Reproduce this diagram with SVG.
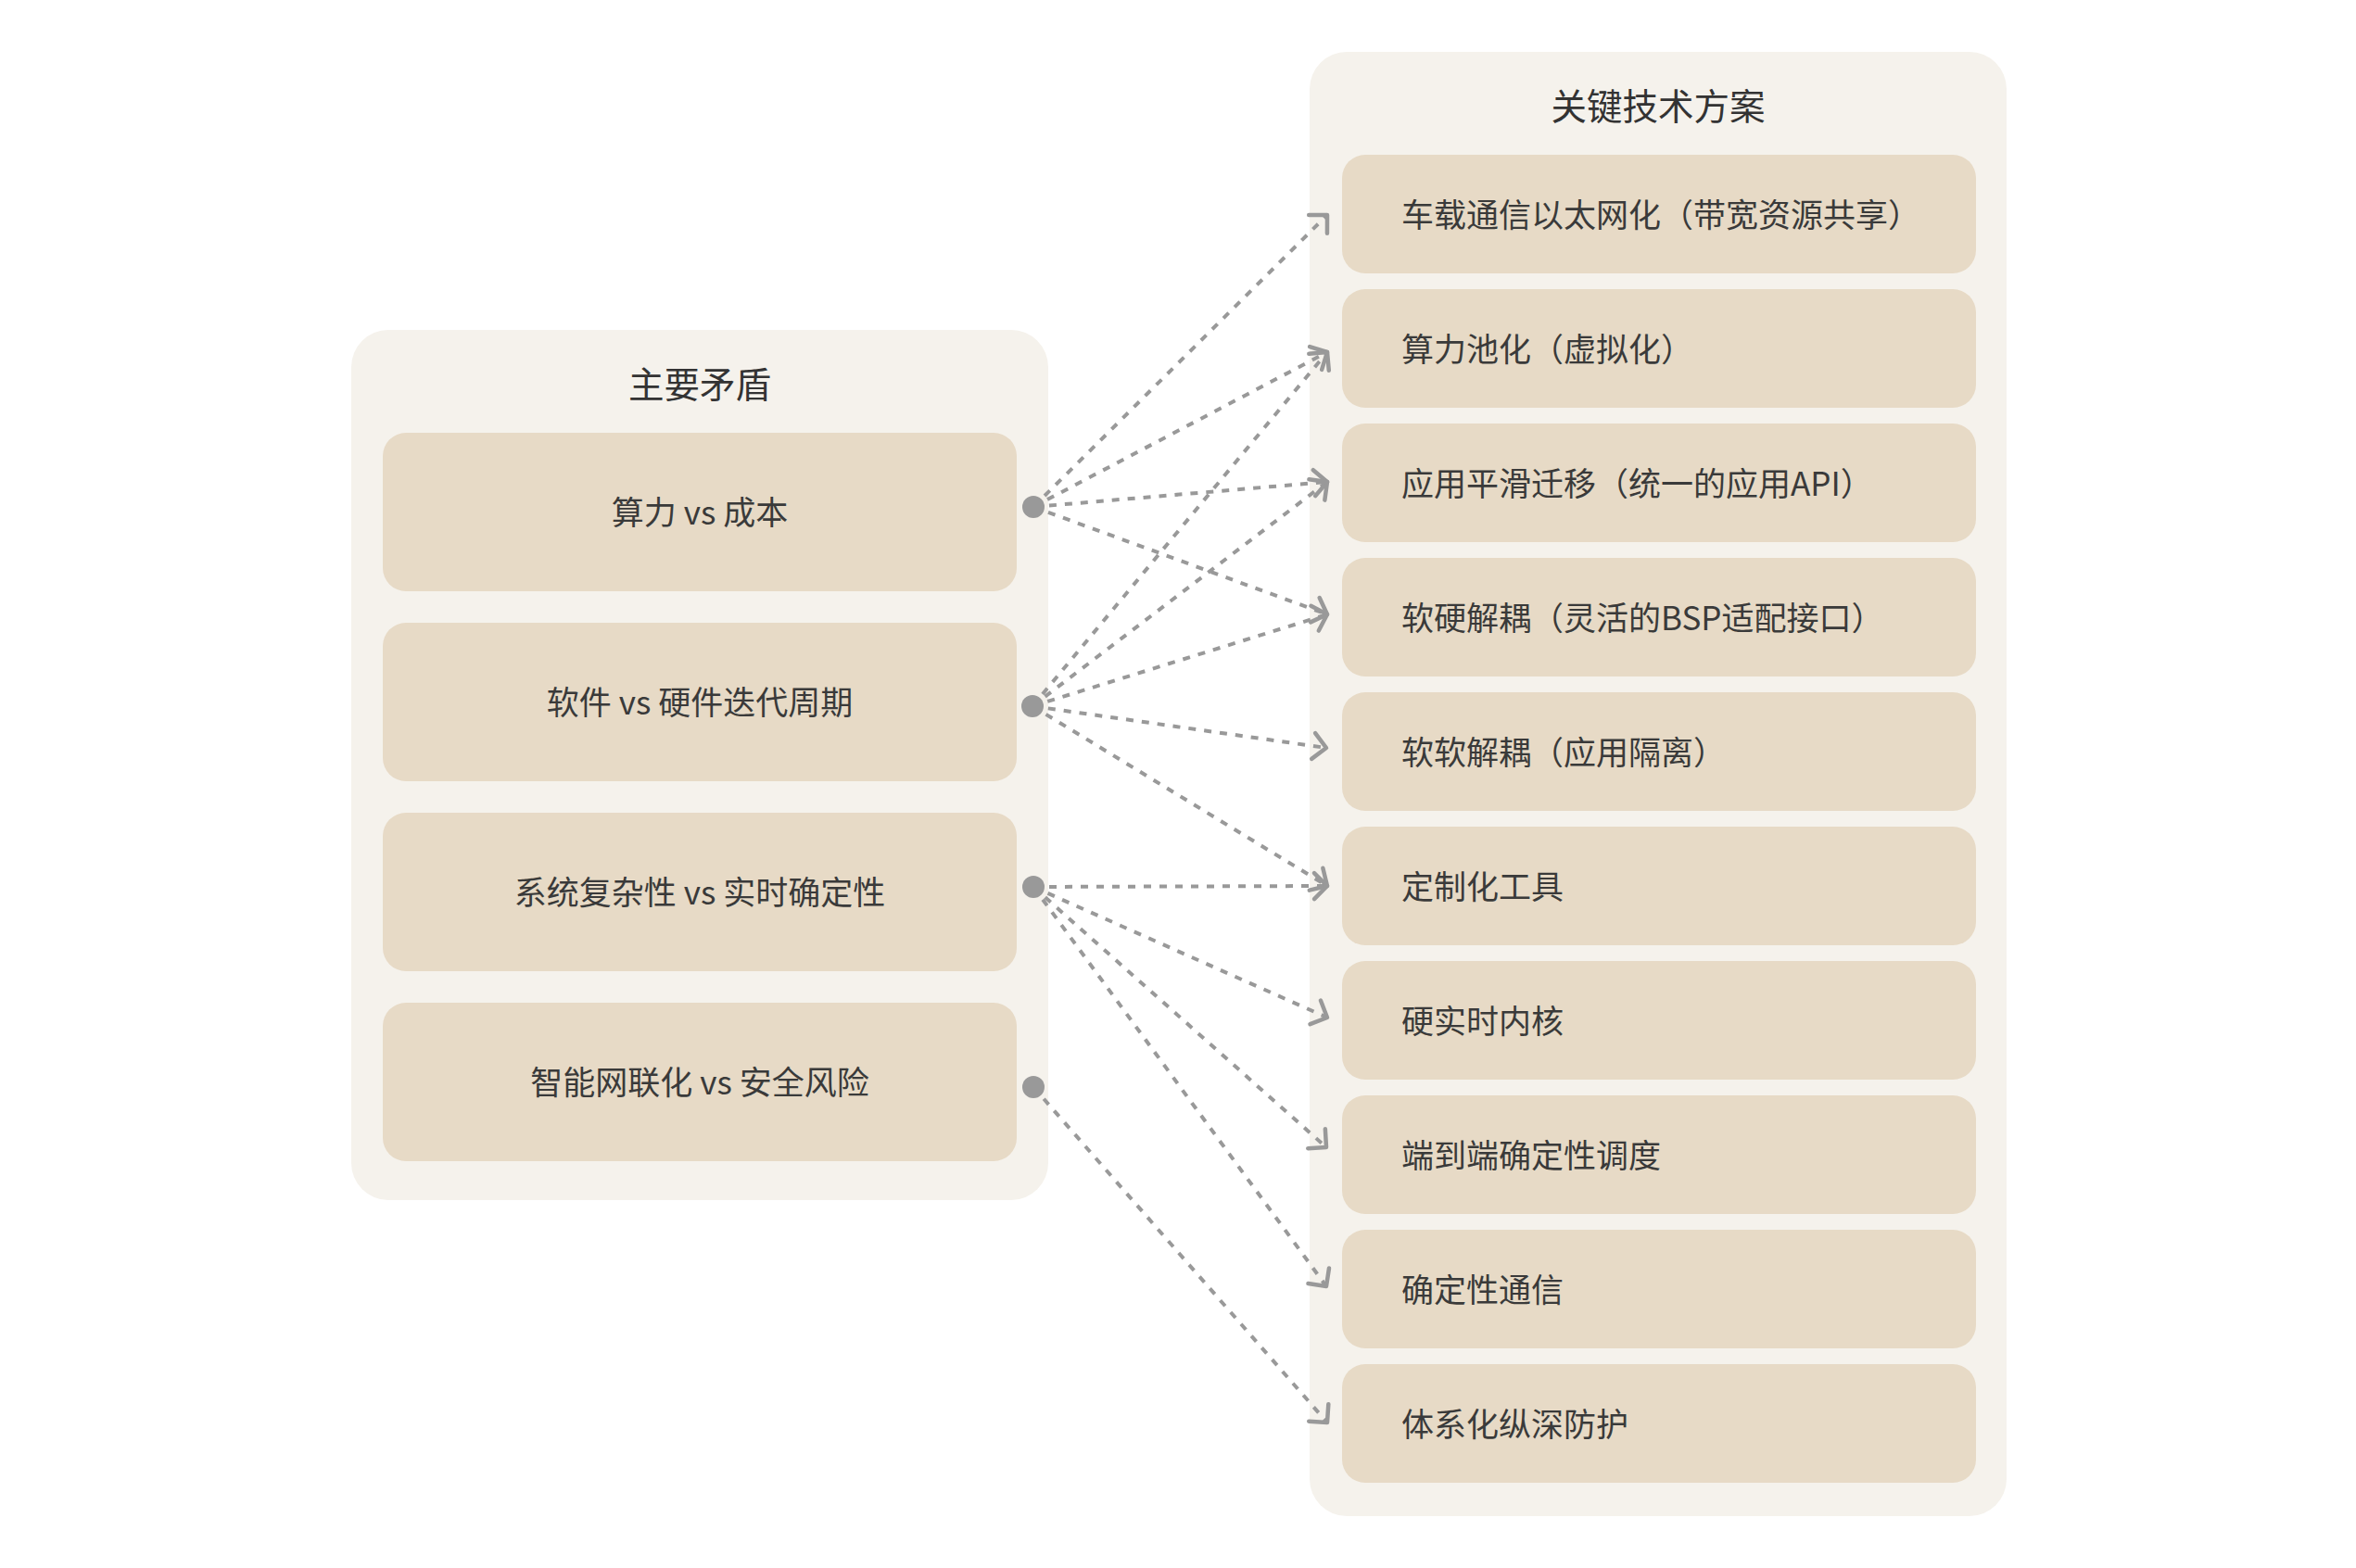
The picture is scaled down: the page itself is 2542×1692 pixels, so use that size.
<svg xmlns="http://www.w3.org/2000/svg" width="2542" height="1692" viewBox="0 0 2542 1692">
<style>
.panel{fill:#F5F2EC}
.node{fill:#E7DAC6}
.t{font-family:"Noto Sans CJK SC","Noto Sans",sans-serif;font-size:35px;fill:#3A3A3A;dominant-baseline:central}
.title{font-family:"Noto Sans CJK SC","Noto Sans",sans-serif;font-size:38.5px;fill:#333333;dominant-baseline:central;text-anchor:middle}
.c{text-anchor:middle}
.e{fill:none;stroke:#999999;stroke-width:4;stroke-dasharray:8 9;marker-end:url(#arr)}
.dot{fill:#999999}
</style>
<defs>
<marker id="arr" markerUnits="userSpaceOnUse" viewBox="-18 -18 22 36" markerWidth="22" markerHeight="36" refX="0" refY="0" orient="auto" overflow="visible">
<path d="M-14,-14 L0,0 L-14,14" fill="none" stroke="#999999" stroke-width="4.5" stroke-linecap="round" stroke-linejoin="round"/>
</marker>
</defs>
<rect width="2542" height="1692" fill="#FFFFFF"/>

<g id="panel-left">
<rect class="panel" x="379" y="356" width="752" height="939" rx="40"/>
<text class="title" x="755" y="412">主要矛盾</text>
</g>
<g id="panel-right">
<rect class="panel" x="1413" y="56" width="752" height="1580" rx="40"/>
<text class="title" x="1789" y="112">关键技术方案</text>
</g>

<g id="c1"><rect class="node" x="413" y="467" width="684" height="171" rx="25"/><text class="t c" x="755" y="550">算力 vs 成本</text></g>
<g id="c2"><rect class="node" x="413" y="672" width="684" height="171" rx="25"/><text class="t c" x="755" y="755">软件 vs 硬件迭代周期</text></g>
<g id="c3"><rect class="node" x="413" y="877" width="684" height="171" rx="25"/><text class="t c" x="755" y="960">系统复杂性 vs 实时确定性</text></g>
<g id="c4"><rect class="node" x="413" y="1082" width="684" height="171" rx="25"/><text class="t c" x="755" y="1165">智能网联化 vs 安全风险</text></g>

<g id="s1"><rect class="node" x="1448" y="167" width="684" height="128" rx="25"/><text class="t" x="1512" y="229">车载通信以太网化（带宽资源共享）</text></g>
<g id="s2"><rect class="node" x="1448" y="312" width="684" height="128" rx="25"/><text class="t" x="1512" y="374">算力池化（虚拟化）</text></g>
<g id="s3"><rect class="node" x="1448" y="457" width="684" height="128" rx="25"/><text class="t" x="1512" y="519">应用平滑迁移（统一的应用API）</text></g>
<g id="s4"><rect class="node" x="1448" y="602" width="684" height="128" rx="25"/><text class="t" x="1512" y="664">软硬解耦（灵活的BSP适配接口）</text></g>
<g id="s5"><rect class="node" x="1448" y="747" width="684" height="128" rx="25"/><text class="t" x="1512" y="809">软软解耦（应用隔离）</text></g>
<g id="s6"><rect class="node" x="1448" y="892" width="684" height="128" rx="25"/><text class="t" x="1512" y="954">定制化工具</text></g>
<g id="s7"><rect class="node" x="1448" y="1037" width="684" height="128" rx="25"/><text class="t" x="1512" y="1099">硬实时内核</text></g>
<g id="s8"><rect class="node" x="1448" y="1182" width="684" height="128" rx="25"/><text class="t" x="1512" y="1244">端到端确定性调度</text></g>
<g id="s9"><rect class="node" x="1448" y="1327" width="684" height="128" rx="25"/><text class="t" x="1512" y="1389">确定性通信</text></g>
<g id="s10"><rect class="node" x="1448" y="1472" width="684" height="128" rx="25"/><text class="t" x="1512" y="1534">体系化纵深防护</text></g>

<g id="connectors">
<path class="e" d="M1115,547 L1432,232"/>
<path class="e" d="M1115,547 L1432,380"/>
<path class="e" d="M1115,547 L1432,520"/>
<path class="e" d="M1115,547 L1432,663"/>
<path class="e" d="M1114,762 L1432,380"/>
<path class="e" d="M1114,762 L1432,520"/>
<path class="e" d="M1114,762 L1432,663"/>
<path class="e" d="M1114,762 L1431,807"/>
<path class="e" d="M1114,762 L1432,956"/>
<path class="e" d="M1115,957 L1432,956"/>
<path class="e" d="M1115,957 L1432,1098"/>
<path class="e" d="M1115,957 L1431,1238"/>
<path class="e" d="M1115,957 L1431,1388"/>
<path class="e" d="M1115,1173 L1432,1535"/>
<circle class="dot" cx="1115" cy="547" r="12"/>
<circle class="dot" cx="1114" cy="762" r="12"/>
<circle class="dot" cx="1115" cy="957" r="12"/>
<circle class="dot" cx="1115" cy="1173" r="12"/>
</g>
</svg>
